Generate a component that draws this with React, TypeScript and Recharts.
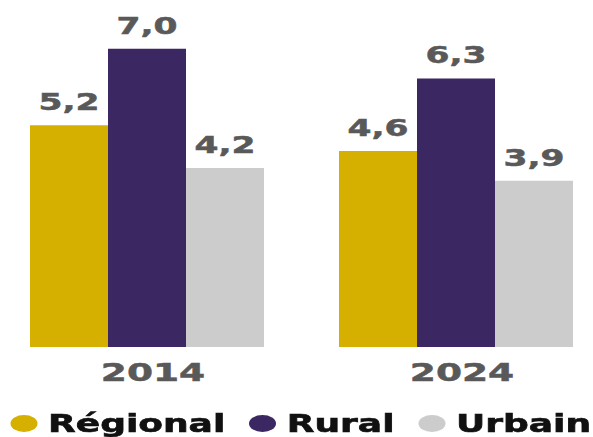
import { Bar, BarChart, LabelList, Legend, XAxis, YAxis } from "recharts"

const categories = ["2014", "2024"]
const regional = [5.2, 4.6]
const rural = [7.0, 6.3]
const urbain = [4.2, 3.9]

const series = [
  { key: "regional", name: "Régional", color: "#D6B000", values: regional },
  { key: "rural", name: "Rural", color: "#3B2762", values: rural },
  { key: "urbain", name: "Urbain", color: "#CCCCCC", values: urbain },
]

const data = categories.map((year, i) => ({
  year,
  regional: regional[i],
  rural: rural[i],
  urbain: urbain[i],
}))

// the source picture is stretched sideways, so the chart is drawn narrow and scaled
const STRETCH = 1.5
const FONT = "'DejaVu Sans', Verdana, sans-serif"
const LABEL_GREY = "#595959"

const fmt = (v: number) => v.toFixed(1).replace(".", ",")

function ValueLabel(props: any) {
  const { x, y, width, value } = props
  return (
    <text
      x={x + width / 2}
      y={y - 15}
      textAnchor="middle"
      fill={LABEL_GREY}
      stroke={LABEL_GREY}
      strokeWidth={0.5}
      fontSize={23}
      fontWeight={700}
      fontFamily={FONT}
    >
      {fmt(value)}
    </text>
  )
}

function LegendRow() {
  return (
    <div
      style={{
        display: "flex",
        alignItems: "center",
        height: 42,
        paddingTop: 15,
        paddingLeft: 7,
        boxSizing: "border-box",
        fontFamily: FONT,
        fontWeight: 700,
        fontSize: 24,
        lineHeight: 1,
        color: "#111",
        WebkitTextStroke: "0.6px #111",
        whiteSpace: "nowrap",
      }}
    >
      {series.map((s) => (
        <div key={s.key} style={{ display: "flex", alignItems: "center", marginRight: 16 }}>
          <span
            style={{
              display: "inline-block",
              width: 18,
              height: 17,
              borderRadius: "50%",
              background: s.color,
              marginRight: 7,
            }}
          />
          <span>{s.name}</span>
        </div>
      ))}
    </div>
  )
}

export default function App() {
  return (
    <div
      style={{
        position: "absolute",
        left: 0,
        top: 0,
        width: 395,
        height: 437,
        transform: `scaleX(${STRETCH})`,
        transformOrigin: "0 0",
        background: "#fff",
      }}
    >
      <BarChart
        width={395}
        height={437}
        data={data}
        margin={{ top: 6, right: -12, bottom: 0, left: -5 }}
        barGap={0}
        barSize={52}
      >
        <XAxis
          dataKey="year"
          axisLine={false}
          tickLine={false}
          tickSize={0}
          tickMargin={16}
          height={48}
          dx={4}
          tick={{
            fill: LABEL_GREY,
            stroke: LABEL_GREY,
            strokeWidth: 0.5,
            fontSize: 25,
            fontWeight: 700,
            fontFamily: FONT,
          }}
        />
        <YAxis hide domain={[0, 8]} />
        <Legend
          verticalAlign="bottom"
          align="left"
          content={() => <LegendRow />}
          wrapperStyle={{ left: 0, bottom: 0, width: 395 }}
        />
        {series.map((s) => (
          <Bar key={s.key} dataKey={s.key} name={s.name} fill={s.color} isAnimationActive={false}>
            <LabelList dataKey={s.key} content={ValueLabel} />
          </Bar>
        ))}
      </BarChart>
    </div>
  )
}
